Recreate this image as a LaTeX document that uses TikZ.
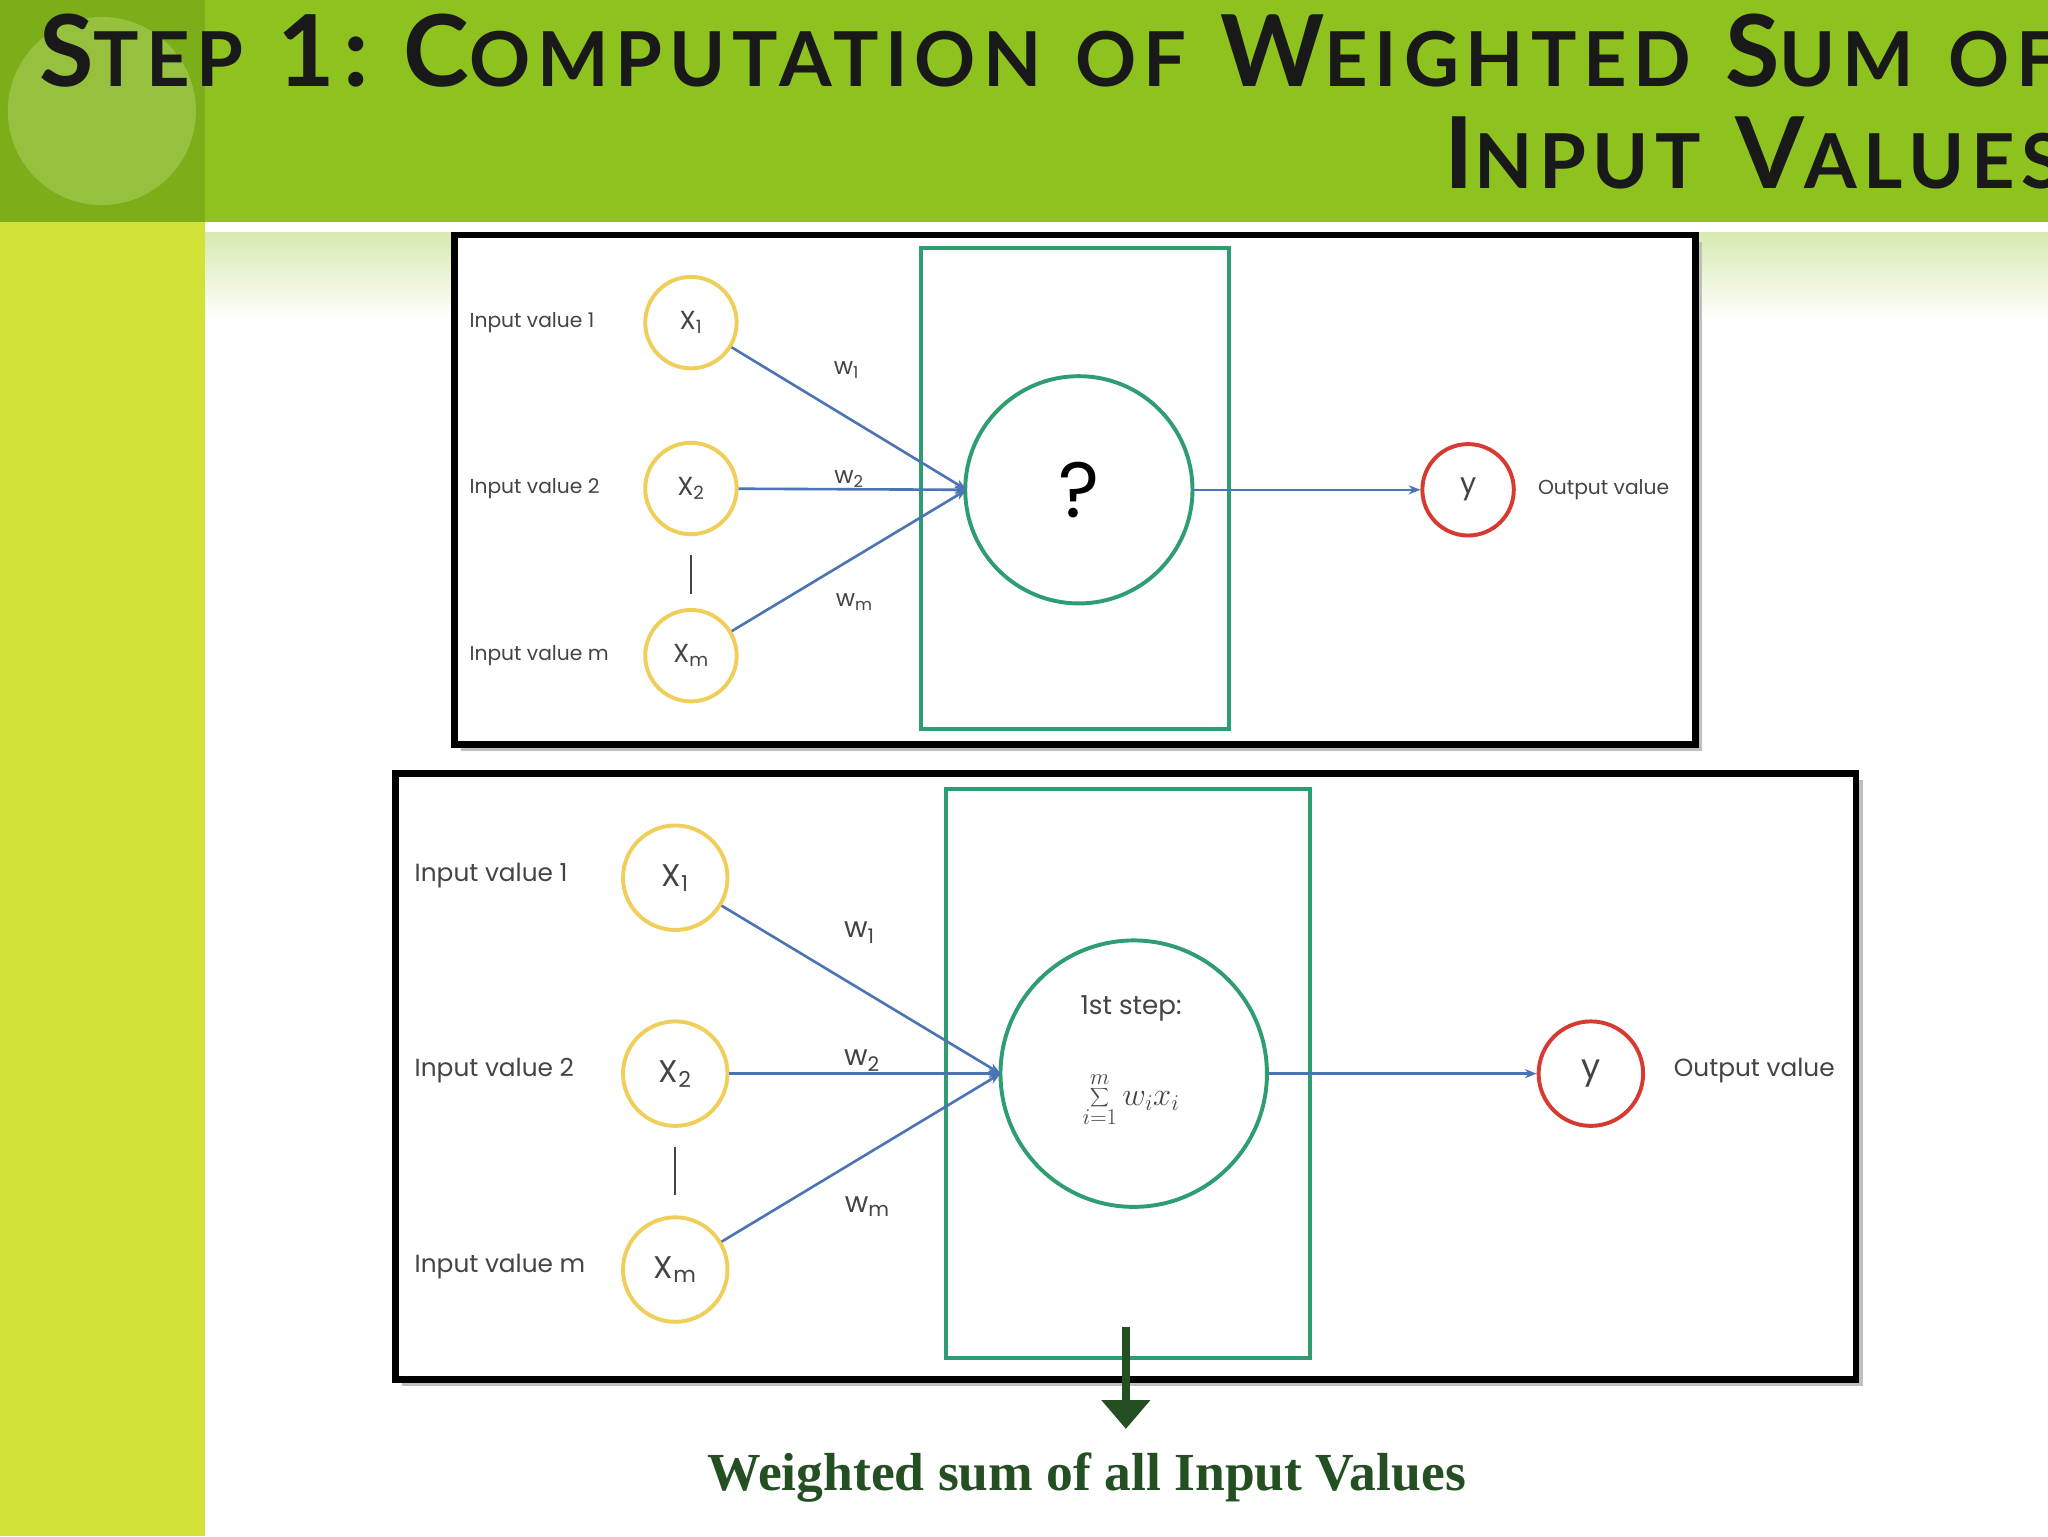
\documentclass[tikz,border=0pt]{standalone}
\usepackage{fontspec}
\setmainfont{Poppins}
\newfontfamily\titlefont[LetterSpace=9]{Lato}
\newfontfamily\serifb{Liberation Serif}
\usetikzlibrary{arrows.meta}
\definecolor{band}{HTML}{8DC21F}
\definecolor{bandd}{HTML}{7CAE1A}
\definecolor{stripe}{HTML}{D2E236}
\definecolor{nn}{HTML}{2E9E72}
\definecolor{inc}{HTML}{EFCF5A}
\definecolor{outc}{HTML}{D63A30}
\definecolor{wire}{HTML}{4A74B4}
\definecolor{dg}{HTML}{244F22}
\definecolor{txt}{HTML}{444444}
\newcommand{\BC}[1]{{\fontsize{76}{76}\selectfont #1}}
\newcommand{\SC}[1]{{\fontsize{58}{58}\selectfont #1}}
\newcommand{\TS}{\hspace{26pt}}
\tikzset{
 incirc/.style={circle,draw=inc,line width=3pt,fill=white,text=txt},
 outcirc/.style={circle,draw=outc,line width=3pt,fill=white,text=txt},
 neuron/.style={circle,draw=nn,line width=3pt,fill=white},
 wirel/.style={draw=wire,line width=2pt,-{Stealth[length=9pt,width=7pt]}},
 lbl/.style={text=txt,anchor=west},
 wlbl/.style={text=txt},
 frame/.style={draw=black,line width=5pt},
 nbox/.style={draw=nn,line width=3pt}
}
\begin{document}
\begin{tikzpicture}[x=1pt,y=-1pt]
\useasboundingbox (0,0) rectangle (1568,1176);
\begin{scope}
\clip (0,0) rectangle (1568,1176);
\fill[white] (0,0) rectangle (1568,1176);
\fill[band] (0,0) rectangle (1568,170);
\fill[bandd] (0,0) rectangle (157,170);
\fill[band!70!white,opacity=0.5] (78,85) circle (72);
\fill[stripe] (0,170) rectangle (157,1176);
\shade[top color=band!35!white,bottom color=white] (157,178) rectangle (1568,245);
\node[anchor=base west,inner sep=0,text=black!90] (t1) at (30,66) {\titlefont\bfseries\BC{S}\SC{TEP}\TS\BC{1:}\TS\BC{C}\SC{OMPUTATION}\TS\SC{OF}\TS\BC{W}\SC{EIGHTED}\TS\BC{S}\SC{UM}\TS\SC{OF}};
\node[anchor=base east,inner sep=0,text=black!90] (t2) at (1580,144) {\titlefont\bfseries\BC{I}\SC{NPUT}\TS\BC{V}\SC{ALUES}};

% top diagram
\fill[black!25] (353,185) rectangle (1303,575);
\filldraw[frame,fill=white] (348,180) rectangle (1298,570);
\draw[nbox] (705,190) rectangle (941,558);
\node[neuron,minimum size=174pt] (n1) at (826,375) {\fontsize{60}{60}\selectfont ?};
\node[incirc,minimum size=70pt,font=\fontsize{20}{20}\selectfont] (a1) at (529,247) {X\textsubscript{1}};
\node[incirc,minimum size=70pt,font=\fontsize{20}{20}\selectfont] (a2) at (529,374) {X\textsubscript{2}};
\node[incirc,minimum size=70pt,font=\fontsize{20}{20}\selectfont] (a3) at (529,502) {X\textsubscript{m}};
\node[outcirc,minimum size=70pt,font=\fontsize{22}{22}\selectfont] (ay) at (1124,375) {y};
\coordinate (t) at (740,375);
\draw[wirel] (a1) -- (t); \draw[wirel] (a2) -- (t); \draw[wirel] (a3) -- (t);
\draw[wirel] (n1) -- (ay);
\draw[txt,line width=1.5pt] (529,425) -- (529,455);
\begin{scope}[font=\fontsize{15.5}{15.5}\selectfont]
\node[lbl] (l1) at (356,247) {Input value 1};
\node[lbl] (l2) at (356,374) {Input value 2};
\node[lbl] (l3) at (356,502) {Input value m};
\node[lbl] (lo) at (1174,375) {Output value};
\end{scope}
\begin{scope}[font=\fontsize{18}{18}\selectfont]
\node[wlbl] (w1) at (648,283) {w\textsubscript{1}};
\node[wlbl] (w2) at (650,367) {w\textsubscript{2}};
\node[wlbl] (w3) at (654,461) {w\textsubscript{m}};
\end{scope}

% bottom diagram
\fill[black!25] (308,597) rectangle (1426,1061);
\filldraw[frame,fill=white] (303,592) rectangle (1421,1056);
\draw[nbox] (724,604) rectangle (1003,1040);
\node[neuron,minimum size=204pt] (n2) at (868,822) {};
\node[text=txt,font=\fontsize{20}{20}\selectfont] (s1) at (866,772) {1st step:};
\node[text=txt,inner sep=0] (s2) at (866,842) {\fontsize{24}{24}\selectfont$\displaystyle\sum\limits_{i=1}^{m} w_i x_i$};
\node[incirc,minimum size=80pt,font=\fontsize{24}{24}\selectfont] (b1) at (517,672) {X\textsubscript{1}};
\node[incirc,minimum size=80pt,font=\fontsize{24}{24}\selectfont] (b2) at (517,822) {X\textsubscript{2}};
\node[incirc,minimum size=80pt,font=\fontsize{24}{24}\selectfont] (b3) at (517,972) {X\textsubscript{m}};
\node[outcirc,minimum size=80pt,font=\fontsize{26}{26}\selectfont] (by) at (1218,822) {y};
\coordinate (u) at (766,822);
\draw[wirel] (b1) -- (u); \draw[wirel] (b2) -- (u); \draw[wirel] (b3) -- (u);
\draw[wirel] (n2) -- (by);
\draw[txt,line width=1.5pt] (517,878) -- (517,915);
\begin{scope}[font=\fontsize{19}{19}\selectfont]
\node[lbl] (m1) at (314,670) {Input value 1};
\node[lbl] (m2) at (314,820) {Input value 2};
\node[lbl] (m3) at (314,970) {Input value m};
\node[lbl] (mo) at (1278,820) {Output value};
\end{scope}
\begin{scope}[font=\fontsize{22}{22}\selectfont]
\node[wlbl] (v1) at (658,714) {w\textsubscript{1}};
\node[wlbl] (v2) at (660,812) {w\textsubscript{2}};
\node[wlbl] (v3) at (664,924) {w\textsubscript{m}};
\end{scope}

\coordinate (d0) at (862,1016);
\node[text=dg,font=\serifb\bfseries\fontsize{41}{41}\selectfont] (ws) at (832,1131) {Weighted sum of all Input Values};
\draw[dg,line width=6pt,-{Triangle[length=22pt,width=36pt]}] (d0) -- (862,1094);
\end{scope}
\end{tikzpicture}
\end{document}
